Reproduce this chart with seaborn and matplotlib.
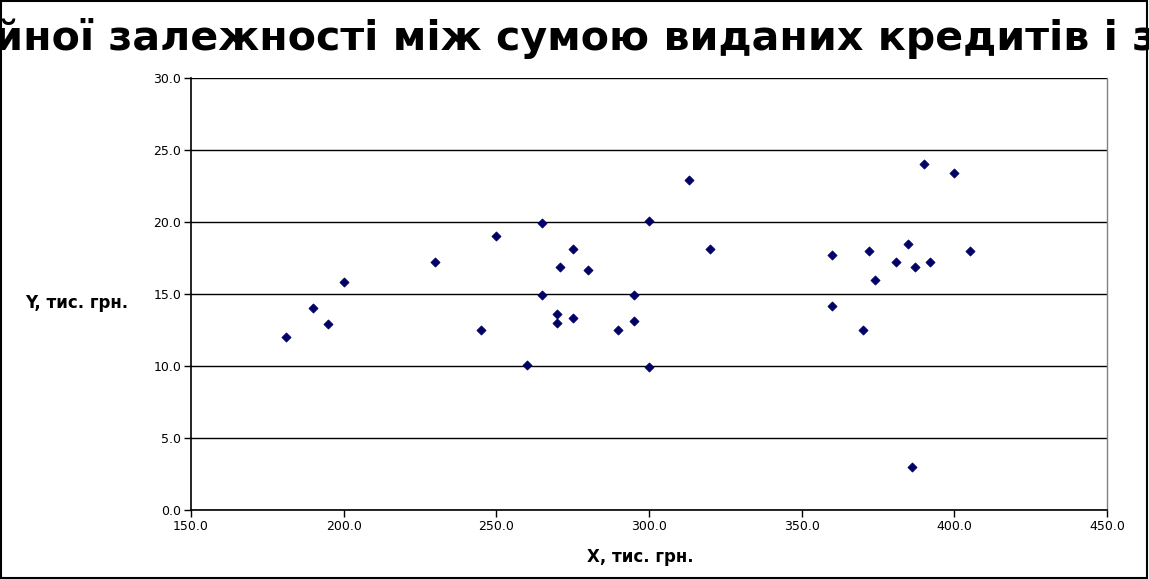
import matplotlib
matplotlib.use("Agg")
import matplotlib.pyplot as plt
import seaborn as sns
import pandas as pd
from matplotlib.ticker import FormatStrFormatter, MultipleLocator

# values
credits_x = [181, 190, 195, 200, 230, 245, 250, 260, 265, 265, 270, 270, 271,
             275, 275, 280, 290, 295, 295, 300, 300, 313, 320, 360, 360, 370,
             372, 374, 381, 385, 386, 387, 390, 392, 400, 405]
values_y = [12.0, 14.0, 12.9, 15.8, 17.2, 12.5, 19.0, 10.1, 19.9, 14.9, 13.6, 13.0, 16.9,
            18.1, 13.3, 16.7, 12.5, 13.1, 14.9, 20.1, 9.9, 22.9, 18.1, 17.7, 14.2, 12.5,
            18.0, 16.0, 17.2, 18.5, 3.0, 16.9, 24.0, 17.2, 23.4, 18.0]

title_text = "Поле кореляційної залежності між сумою виданих кредитів і заборгованістю"
x_label = "X, тис. грн."
y_label = "Y, тис. грн."

df = pd.DataFrame({"x": credits_x, "y": values_y})

sns.set_style("white")
plt.rcParams["font.family"] = ["DejaVu Sans"]
plt.rcParams["text.color"] = "black"
plt.rcParams["xtick.color"] = "black"
plt.rcParams["ytick.color"] = "black"

fig = plt.figure(figsize=(11.49, 5.79), dpi=100)
ax = fig.add_axes([0.1662, 0.1192, 0.7972, 0.7461])

sns.scatterplot(data=df, x="x", y="y", marker="D", s=22, color="#000066",
                edgecolor="#000066", linewidth=0.5, ax=ax, zorder=3)

ax.set_xlim(150, 450)
ax.set_ylim(0, 30)
ax.xaxis.set_major_locator(MultipleLocator(50))
ax.yaxis.set_major_locator(MultipleLocator(5))
ax.xaxis.set_major_formatter(FormatStrFormatter("%.1f"))
ax.yaxis.set_major_formatter(FormatStrFormatter("%.1f"))
ax.tick_params(axis="both", direction="out", length=5, width=1, color="black",
               labelcolor="black", labelsize=9, pad=2, left=True, bottom=True)

ax.yaxis.grid(True, color="black", linewidth=1)
ax.xaxis.grid(False)
ax.set_axisbelow(True)

for side in ["left", "bottom"]:
    ax.spines[side].set_color("black")
    ax.spines[side].set_linewidth(1.2)
ax.spines["top"].set_visible(False)
ax.spines["right"].set_color("#808080")
ax.spines["right"].set_linewidth(1)

ax.set_xlabel("")
ax.set_ylabel("")
fig.text(0.0665, 0.477, y_label, ha="center", va="center", fontsize=12,
         fontweight="bold", color="black")
fig.text(0.557, 0.038, x_label, ha="center", va="center", fontsize=12,
         fontweight="bold", color="black")

# the title is wider than the picture and gets cut at both sides, as in the original
fig.text(0.5, 1 - 50 / 579, title_text, ha="center", va="baseline",
         fontsize=29.6, fontweight="bold", color="black")

# frame around the whole picture
fig.patches.append(plt.Rectangle((0.0005, 0.001), 0.998, 0.997, transform=fig.transFigure,
                                 fill=False, edgecolor="black", linewidth=1.5))

fig.savefig("out.png", dpi=100)
